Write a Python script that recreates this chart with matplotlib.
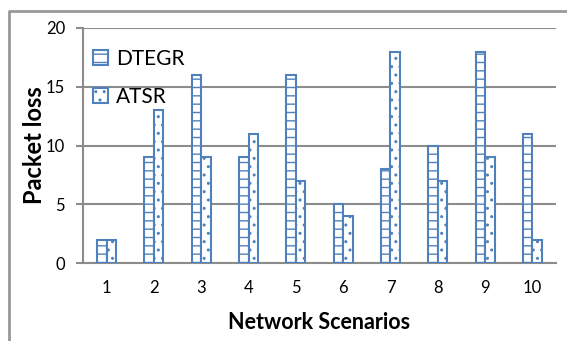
import matplotlib.pyplot as plt
from matplotlib.lines import Line2D
import numpy as np

scenarios = [1, 2, 3, 4, 5, 6, 7, 8, 9, 10]
dtegr = [2, 9, 16, 9, 16, 5, 8, 10, 18, 11]
atsr = [2, 13, 9, 11, 7, 4, 18, 7, 9, 2]

plt.rcParams['font.family'] = ['Lato', 'DejaVu Sans']
plt.rcParams['hatch.linewidth'] = 1.0

blue = '#4F81BD'
grid = '#8C8C8C'

fig = plt.figure(figsize=(5.67, 3.41), dpi=100)
ax = fig.add_axes([83 / 567, 1 - 263 / 341, 473 / 567, 235 / 341])

x = np.array(scenarios)
w = 0.2
ax.bar(x - w / 2, dtegr, w, color='white', edgecolor=blue, hatch='--',
       linewidth=1.5, label='DTEGR', zorder=3)
ax.bar(x + w / 2, atsr, w, color='white', edgecolor=blue, hatch='..',
       linewidth=1.5, label='ATSR', zorder=3)

ax.set_xlim(0.5, 10.5)
ax.set_ylim(0, 20)
ax.set_yticks([0, 5, 10, 15, 20])
ax.set_xticks(scenarios)
ax.yaxis.grid(True, color=grid, linewidth=1.5, zorder=0)
ax.set_axisbelow(True)

for s in ['top', 'right']:
    ax.spines[s].set_visible(False)
ax.spines['left'].set_color(grid)
ax.spines['left'].set_linewidth(1.5)
ax.spines['bottom'].set_color(grid)
ax.spines['bottom'].set_linewidth(1.5)
ax.tick_params(axis='y', length=5, width=1.5, color=grid, labelsize=12, pad=8)
ax.tick_params(axis='x', length=0, labelsize=12, pad=12)

ax.set_xlabel('Network Scenarios', fontsize=15.5, fontweight='bold', labelpad=12)
ax.set_ylabel('Packet loss', fontsize=17, fontweight='bold', labelpad=0)

ax.legend(loc='upper left', bbox_to_anchor=(0.0, 0.955), frameon=False,
          fontsize=15, labelspacing=0.85, handlelength=0.72, handleheight=0.72,
          handletextpad=0.35, borderaxespad=0.3, borderpad=0.2)

# outer frame
fx = 9 / 567
fy = 1 - 11 / 341
fig.add_artist(Line2D([fx, fx, 1], [0, fy, fy], color='#999999', linewidth=2))

fig.savefig('out.png', dpi=100)
